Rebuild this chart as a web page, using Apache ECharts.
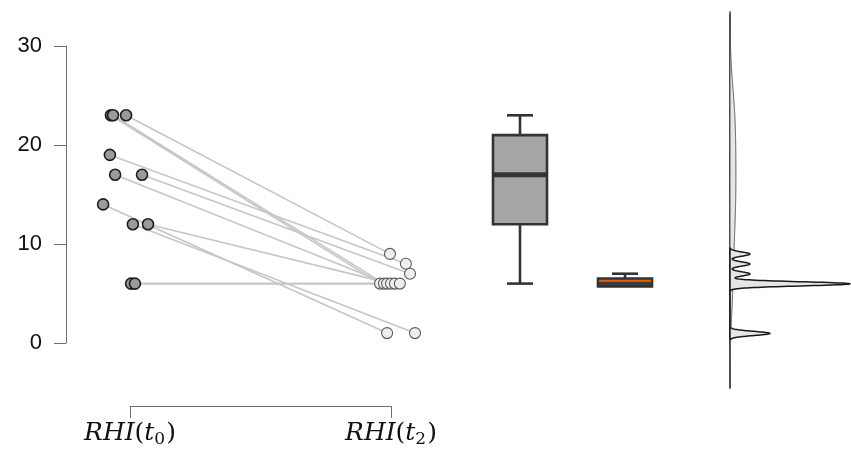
<!DOCTYPE html>
<html><head><meta charset="utf-8">
<script src="https://cdn.jsdelivr.net/npm/echarts@6/dist/echarts.min.js"></script>
<style>html,body{margin:0;padding:0;background:#fff}#c{width:851px;height:460px}</style>
</head><body><div id="c"></div>
<script>
// ---- data ----
const groupLabels = ['t0', 't2'];
const yTicks = [0, 10, 20, 30];
const t0Values = [23, 23, 23, 19, 17, 17, 14, 12, 12, 6, 6];
const t2Values = [9, 6, 6, 8, 7, 6, 1, 1, 6, 6, 6];
// jittered horizontal positions (group 1 = t0, group 2 = t2)
const t0Jitter = [0.985, 0.927, 0.935, 0.923, 1.046, 0.943, 0.897, 1.011, 1.069, 1.004, 1.019];
const t2Jitter = [1.996, 1.958, 1.973, 2.057, 2.073, 1.985, 1.985, 2.092, 2.000, 2.015, 2.034];
// box statistics [min, Q1, median, Q3, max]
const boxT0 = [6, 12, 17, 21, 23];
const boxT2 = [5.7, 5.7, 6.3, 6.5, 7];

// ---- density (Gaussian KDE, Silverman bandwidth) computed from the data ----
function quantile7(sorted, p) {
  const h = (sorted.length - 1) * p, lo = Math.floor(h), hi = Math.ceil(h);
  return sorted[lo] + (h - lo) * (sorted[hi] - sorted[lo]);
}
function bwNrd0(v) {
  const n = v.length, m = v.reduce((a, b) => a + b, 0) / n;
  const sd = Math.sqrt(v.reduce((a, b) => a + (b - m) * (b - m), 0) / (n - 1));
  const s = v.slice().sort((a, b) => a - b);
  const iqr = quantile7(s, 0.75) - quantile7(s, 0.25);
  return 0.9 * Math.min(sd, iqr / 1.34) * Math.pow(n, -0.2);
}
function kde(v) {
  const bw = bwNrd0(v), n = v.length;
  const lo = Math.min(...v) - 3 * bw, hi = Math.max(...v) + 3 * bw, N = 512;
  const pts = [];
  for (let i = 0; i < N; i++) {
    const y = lo + (hi - lo) * i / (N - 1);
    let d = 0;
    for (const x of v) { const z = (y - x) / bw; d += Math.exp(-0.5 * z * z); }
    pts.push([d / (n * bw * Math.sqrt(2 * Math.PI)), y]);
  }
  return pts;
}
const densT0 = kde(t0Values);
const densT2 = kde(t2Values);

// ---- chart ----
const chart = echarts.init(document.getElementById('c'), null, {renderer: 'canvas'});

const pairSeries = t0Values.map((v, i) => ({
  type: 'line', xAxisIndex: 0, yAxisIndex: 0, silent: true, symbol: 'none',
  lineStyle: {color: '#c6c6c6', width: 1.6}, z: 1,
  data: [[t0Jitter[i], v], [t2Jitter[i], t2Values[i]]]
}));

function densitySeries(pts, fill, stroke, lw, z) {
  return {
    type: 'custom', coordinateSystem: 'cartesian2d', xAxisIndex: 2, yAxisIndex: 2,
    silent: true, clip: false, z: z, data: [[0, 0]],
    renderItem: (params, api) => {
      const poly = [api.coord([0, pts[0][1]])]
        .concat(pts.map(p => api.coord(p)))
        .concat([api.coord([0, pts[pts.length - 1][1]])]);
      return {type: 'polygon', shape: {points: poly},
        style: {fill: fill, stroke: stroke, lineWidth: lw, lineJoin: 'round'}};
    }
  };
}

const boxes = [boxT0, boxT2];
const boxFills = ['#a6a6a6', '#3d3d3d'];
const medianColors = ['#333333', '#e8600f'];
const medianWidths = [5, 2];
const BOX_HALF = 27, CAP_HALF = 13, BORDER = 2.6, EDGE = '#333333';

const boxSeries = {
  type: 'custom', coordinateSystem: 'cartesian2d', xAxisIndex: 1, yAxisIndex: 1, z: 2, silent: true, clip: false,
  data: boxes.map((b, i) => [i].concat(b)),
  renderItem: (params, api) => {
    const i = params.dataIndex, x = api.value(0);
    const pMin = api.coord([x, api.value(1)]), pQ1 = api.coord([x, api.value(2)]);
    const pMed = api.coord([x, api.value(3)]), pQ3 = api.coord([x, api.value(4)]);
    const pMax = api.coord([x, api.value(5)]);
    const cx = pMed[0];
    const ls = {stroke: EDGE, lineWidth: BORDER};
    const kids = [];
    if (pMin[1] - pQ1[1] > 0.5) {
      kids.push({type: 'line', shape: {x1: cx, y1: pQ1[1], x2: cx, y2: pMin[1]}, style: ls});
      kids.push({type: 'line', shape: {x1: cx - CAP_HALF, y1: pMin[1], x2: cx + CAP_HALF, y2: pMin[1]}, style: ls});
    }
    kids.push({type: 'line', shape: {x1: cx, y1: pQ3[1], x2: cx, y2: pMax[1]}, style: ls});
    kids.push({type: 'line', shape: {x1: cx - CAP_HALF, y1: pMax[1], x2: cx + CAP_HALF, y2: pMax[1]}, style: ls});
    kids.push({type: 'rect', shape: {x: cx - BOX_HALF, y: pQ3[1], width: 2 * BOX_HALF, height: pQ1[1] - pQ3[1]},
      style: {fill: boxFills[i], stroke: EDGE, lineWidth: BORDER}});
    kids.push({type: 'line', shape: {x1: cx - BOX_HALF + 1, y1: pMed[1], x2: cx + BOX_HALF - 1, y2: pMed[1]},
      style: {stroke: medianColors[i], lineWidth: medianWidths[i]}});
    return {type: 'group', children: kids};
  }
};

const labelRich = {
  i: {fontFamily: 'DejaVu Serif', fontStyle: 'italic', fontSize: 25, color: '#111', lineHeight: 30},
  p: {fontFamily: 'DejaVu Serif', fontSize: 25, color: '#111', lineHeight: 30},
  s: {fontFamily: 'DejaVu Serif', fontSize: 17, color: '#111', lineHeight: 30, verticalAlign: 'bottom', padding: [0, 1, 0, 0]}
};

const option = {
  animation: false,
  backgroundColor: '#ffffff',
  grid: [
    {left: 66, top: 46, bottom: 117, width: 394},
    {left: 467.5, top: 46, bottom: 117, width: 210},
    {left: 730, top: 14, bottom: 72, width: 121},
    {left: 130, top: 380, bottom: 54, width: 261}
  ],
  xAxis: [
    {gridIndex: 0, type: 'value', min: 1 - 64 / 261, max: 1 + 330 / 261, show: false},
    {gridIndex: 1, type: 'category', data: groupLabels, show: false},
    {gridIndex: 2, type: 'value', min: 0, max: 1.056, show: false},
    {gridIndex: 3, type: 'value', min: 1, max: 2, interval: 1,
      axisLine: {show: true, lineStyle: {color: '#707070', width: 1}},
      axisTick: {show: true, length: 12, lineStyle: {color: '#707070', width: 1}},
      splitLine: {show: false},
      axisLabel: {margin: 12, rich: labelRich,
        formatter: v => v === 1 ? '{i|RHI}{p|(}{i|t}{s|0}{p|)}' : (v === 2 ? '{i|RHI}{p|(}{i|t}{s|2}{p|)}' : '')}
    }
  ],
  yAxis: [
    {gridIndex: 0, type: 'value', min: yTicks[0], max: yTicks[yTicks.length - 1], interval: 10,
      axisLine: {show: true, lineStyle: {color: '#707070', width: 1}},
      axisTick: {show: true, length: 12, lineStyle: {color: '#707070', width: 1}},
      splitLine: {show: false},
      axisLabel: {margin: 24, color: '#111', fontSize: 22, fontFamily: 'Liberation Sans'}
    },
    {gridIndex: 1, type: 'value', min: 0, max: 30, show: false},
    {gridIndex: 2, type: 'value', min: -4.5, max: 33.2,
      axisLine: {show: true, lineStyle: {color: '#111', width: 1.6}},
      axisTick: {show: false}, axisLabel: {show: false}, splitLine: {show: false}},
    {gridIndex: 3, type: 'value', show: false}
  ],
  series: pairSeries.concat([
    {type: 'scatter', xAxisIndex: 0, yAxisIndex: 0, z: 3, symbolSize: 11,
      itemStyle: {color: '#9b9b9b', borderColor: '#1e1e1e', borderWidth: 1.6, opacity: 1},
      data: t0Values.map((v, i) => [t0Jitter[i], v])},
    {type: 'scatter', xAxisIndex: 0, yAxisIndex: 0, z: 3, symbolSize: 11,
      itemStyle: {color: '#eeeeee', borderColor: '#5a5a5a', borderWidth: 1.1, opacity: 1},
      data: t2Values.map((v, i) => [t2Jitter[i], v])},
    boxSeries,
    densitySeries(densT0, '#e6e6e6', '#555555', 1, 5),
    densitySeries(densT2, '#e6e6e6', '#1a1a1a', 1.5, 6)
  ])
};
chart.setOption(option);
</script>
</body></html>
